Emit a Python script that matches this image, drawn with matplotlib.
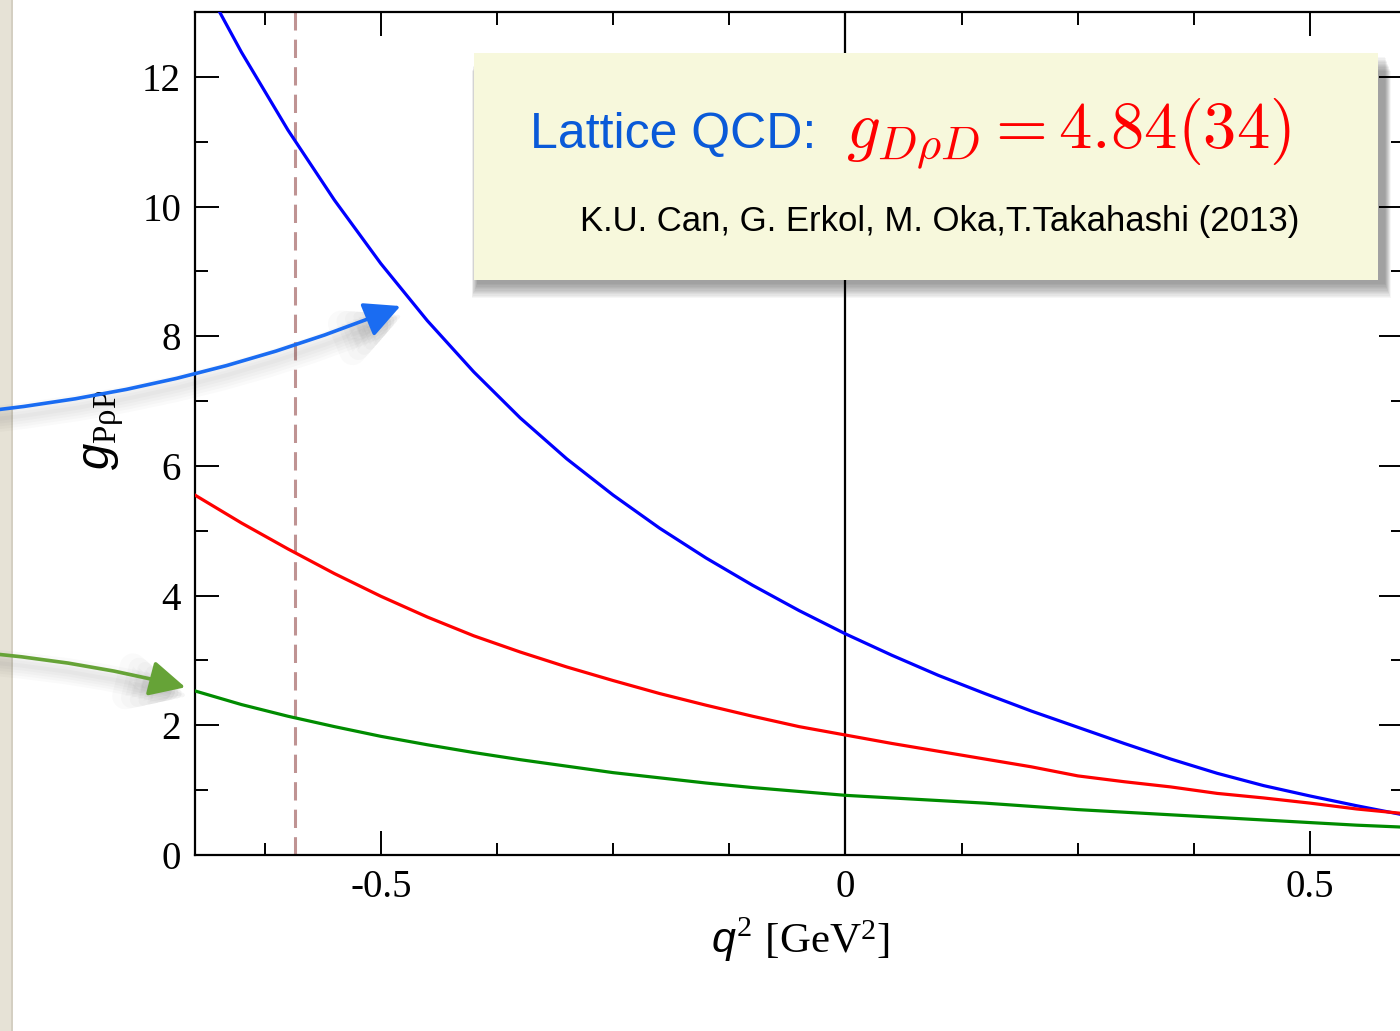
import matplotlib
matplotlib.use("Agg")
import matplotlib.pyplot as plt
import matplotlib.patches as mpatches
from matplotlib.ticker import MultipleLocator, FixedLocator

# ── data ─────────────────────────────────────────────────────────────────────
q2 = [-0.70, -0.65, -0.60, -0.55, -0.50, -0.45, -0.40, -0.35, -0.30,
      -0.25, -0.20, -0.15, -0.10, -0.05, 0.00, 0.05, 0.10, 0.15, 0.20,
      0.25, 0.30, 0.35, 0.40, 0.45, 0.50, 0.55, 0.60]
g_blue = [13.7, 12.38, 11.18, 10.1, 9.12, 8.24, 7.45, 6.74, 6.11,
          5.55, 5.04, 4.58, 4.16, 3.77, 3.41, 3.08, 2.77, 2.49, 2.22,
          1.97, 1.72, 1.48, 1.26, 1.07, 0.91, 0.76, 0.62]
g_red = [5.55, 5.12, 4.72, 4.34, 3.99, 3.67, 3.38, 3.13, 2.90,
         2.69, 2.49, 2.31, 2.14, 1.98, 1.85, 1.72, 1.60, 1.48, 1.36,
         1.22, 1.13, 1.05, 0.95, 0.88, 0.80, 0.71, 0.64]
g_green = [2.53, 2.32, 2.14, 1.98, 1.83, 1.70, 1.58, 1.47, 1.37,
           1.27, 1.19, 1.11, 1.04, 0.98, 0.92, 0.88, 0.84, 0.80, 0.75,
           0.70, 0.66, 0.62, 0.58, 0.54, 0.50, 0.46, 0.43]

q2_cut = -0.592
xticks = [-0.5, 0.0, 0.5]
xtick_labels = ["-0.5", "0", "0.5"]

# ── figure setup ─────────────────────────────────────────────────────────────
plt.rcParams["mathtext.fontset"] = "custom"
plt.rcParams["mathtext.it"] = "Liberation Sans:italic"
plt.rcParams["mathtext.rm"] = "Liberation Serif"

W, H = 1400, 1031
fig = plt.figure(figsize=(14, 10.31), dpi=100)
fig.patch.set_facecolor("white")


def fx(px):
    return px / W


def fy(py):
    return 1 - py / H


# slide edge on the left
fig.patches.append(mpatches.Rectangle((0, 0), fx(13), 1, transform=fig.transFigure,
                                      facecolor="#e6e2d6", edgecolor="none", zorder=0))
fig.patches.append(mpatches.Rectangle((fx(11), 0), fx(2), 1, transform=fig.transFigure,
                                      facecolor="#d4cfc2", edgecolor="none", zorder=0))

ax = fig.add_axes([fx(195), fy(855), fx(1403 - 195), (855 - 12) / H])

ax.plot(q2, g_blue, color="#0000ff", lw=2.3, zorder=3)
ax.plot(q2, g_red, color="#ff0000", lw=2.3, zorder=3)
ax.plot(q2, g_green, color="#008c00", lw=2.3, zorder=3)
ax.axvline(0, color="black", lw=1.6, zorder=2)
ax.axvline(q2_cut, color="#bf9393", lw=2.2, dashes=(6, 3), zorder=2)

ax.set_xlim(-0.7, 0.6)
ax.set_ylim(0, 13)
ax.xaxis.set_major_locator(FixedLocator(xticks))
ax.xaxis.set_minor_locator(MultipleLocator(0.125))
ax.set_xticklabels(xtick_labels)
ax.yaxis.set_major_locator(MultipleLocator(2))
ax.yaxis.set_minor_locator(MultipleLocator(1))
ax.tick_params(which="both", direction="in", top=True, right=True, width=1.4,
               labelsize=28, pad=10)
ax.tick_params(which="major", length=17)
ax.tick_params(which="minor", length=9)
for lab in ax.get_xticklabels() + ax.get_yticklabels():
    lab.set_family("Liberation Serif")
for sp in ax.spines.values():
    sp.set_linewidth(1.6)

# axis labels
fig.text(fx(800), fy(940), r"$q^{2}\ \mathrm{[GeV^{2}]}$", fontsize=31,
         ha="center", va="center")
fig.text(fx(104), fy(430), r"$g_{\mathrm{P\rho P}}$", fontsize=34,
         ha="center", va="center", rotation=90)

# ── annotation box with shadow ───────────────────────────────────────────────
bx0, by0, bx1, by1 = 474, 53, 1378, 280
for i in range(12):
    fig.patches.append(mpatches.Rectangle(
        (fx(bx0 + 3 - i * 0.5), fy(by1 + 4 + i * 1.3)), fx(bx1 - bx0 + 4 + i),
        (by1 - by0) / H, transform=fig.transFigure,
        facecolor="#000000", alpha=0.035, edgecolor="none", zorder=1))
fig.patches.append(mpatches.Rectangle((fx(bx0), fy(by1)), fx(bx1 - bx0), (by1 - by0) / H,
                                      transform=fig.transFigure, facecolor="#f7f8dc",
                                      edgecolor="none", zorder=2))

fig.text(fx(530), fy(148), "Lattice QCD:", color="#0a5ad8", fontsize=36,
         family="Liberation Sans", va="baseline", zorder=4)
fig.text(fx(846), fy(148), r"$g_{D\rho D} = 4.84(34)$", color="#ff0000", fontsize=48,
         math_fontfamily="cm", va="baseline", zorder=4)
fig.text(fx(580), fy(231), "K.U. Can, G. Erkol, M. Oka,T.Takahashi (2013)",
         fontsize=25, family="Liberation Sans", va="baseline", zorder=4)


# ── hand-drawn style arrows ──────────────────────────────────────────────────
def arrow(p0, p1, rad, color, hl, hw):
    for k in range(5):
        sh = mpatches.FancyArrowPatch(
            (fx(p0[0] + 2), fy(p0[1] + 9)), (fx(p1[0] + 2), fy(p1[1] + 9)),
            transform=fig.transFigure, connectionstyle=f"arc3,rad={rad}",
            arrowstyle=f"-|>,head_length={hl},head_width={hw}", mutation_scale=20,
            color="black", lw=3 + 4 * k, alpha=0.018, zorder=3)
        fig.patches.append(sh)
    a = mpatches.FancyArrowPatch(
        (fx(p0[0]), fy(p0[1])), (fx(p1[0]), fy(p1[1])),
        transform=fig.transFigure, connectionstyle=f"arc3,rad={rad}",
        arrowstyle=f"-|>,head_length={hl},head_width={hw}", mutation_scale=20,
        color=color, lw=2.6, zorder=4)
    fig.patches.append(a)


arrow((-5, 410), (403, 305), 0.07, "#1a6cf2", 1.1, 0.55)
arrow((-5, 654), (188, 688), -0.04, "#66a337", 1.1, 0.55)

fig.savefig("out.png", dpi=100)
